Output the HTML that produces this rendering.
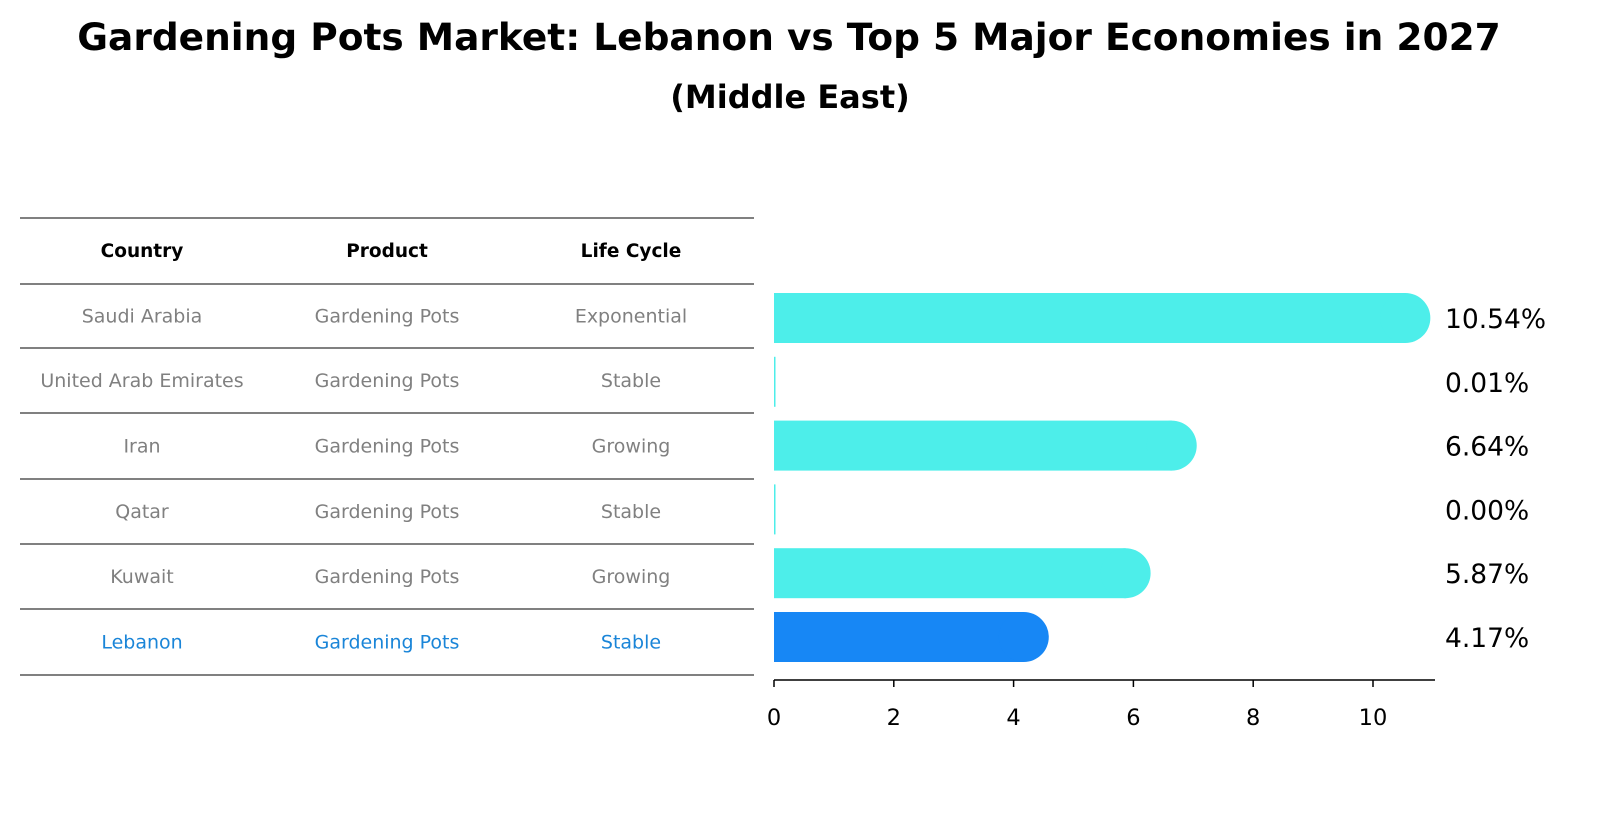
<!DOCTYPE html>
<html><head><meta charset="utf-8"><style>
body{margin:0;background:#fff;font-family:"Liberation Sans","DejaVu Sans",sans-serif;}
svg text{font-family:"DejaVu Sans","Liberation Sans",sans-serif;}
</style></head><body>
<svg id="c" width="1604" height="823" viewBox="0 0 1604 823">
<text x="789" y="50" text-anchor="middle" font-size="37.5" font-weight="bold">Gardening Pots Market: Lebanon vs Top 5 Major Economies in 2027</text>
<text x="790" y="108" text-anchor="middle" font-size="32" font-weight="bold">(Middle East)</text>
<g id="table"></g>
<g id="bars"></g>
</svg>
<script>
const countries=["Saudi Arabia","United Arab Emirates","Iran","Qatar","Kuwait","Lebanon"];
const products=["Gardening Pots","Gardening Pots","Gardening Pots","Gardening Pots","Gardening Pots","Gardening Pots"];
const lifeCycles=["Exponential","Stable","Growing","Stable","Growing","Stable"];
const values=[10.54,0.01,6.64,0.00,5.87,4.17];
const ticks=[0,2,4,6,8,10];
const NS="http://www.w3.org/2000/svg";
function mk(p,t,a,txt){const e=document.createElementNS(NS,t);for(const k in a)e.setAttribute(k,a[k]);if(txt!==undefined)e.textContent=txt;p.appendChild(e);return e;}
const tb=document.getElementById('table');
const lineYs=[218,284,348,413,479,544,609,675];
const colX=[142,387,631];
lineYs.forEach((y,i)=>{const l=mk(tb,'line',{x1:20,x2:754,y1:y,y2:y,stroke:'#000','stroke-width':1});

});
["Country","Product","Life Cycle"].forEach((h,i)=>{const t=mk(tb,'text',{x:colX[i],y:257,'text-anchor':'middle','font-size':18.5,'font-weight':'bold'},h);

});
countries.forEach((c,r)=>{const y=(lineYs[r+1]+lineYs[r+2])/2+6.5;const col=r===countries.length-1?'#1a85d8':'#808080';
[c,products[r],lifeCycles[r]].forEach((v,i)=>{const t=mk(tb,'text',{x:colX[i],y:y,'text-anchor':'middle','font-size':19,fill:col},v);

});});
const bg=document.getElementById('bars');
const x0=774,scale=59.9;
const xs=v=>x0+v*scale;
const y0=318,step=63.8,bh=50;
values.forEach((v,i)=>{const cy=y0+i*step;const col=i===values.length-1?'#1787f5':'#4deeea';
const g=mk(bg,'g',{});


const w=Math.max(1.5,xs(v)-x0);
mk(g,'rect',{x:x0,y:cy-bh/2,width:w,height:bh,fill:col});
if(v>0.05)mk(g,'circle',{cx:xs(v),cy:cy,r:bh/2,fill:col});
const t=mk(bg,'text',{x:1445,y:cy+10,'font-size':26.5},v.toFixed(2)+'%');

});
const ax=mk(bg,'line',{x1:x0,x2:1435,y1:680,y2:680,stroke:'#000','stroke-width':1.5});


ticks.forEach(t=>{const tk=mk(bg,'line',{x1:xs(t),x2:xs(t),y1:680,y2:687,stroke:'#000','stroke-width':1.5});


const tl=mk(bg,'text',{x:xs(t),y:725,'text-anchor':'middle','font-size':22.5},String(t));

});
</script>
</body></html>
